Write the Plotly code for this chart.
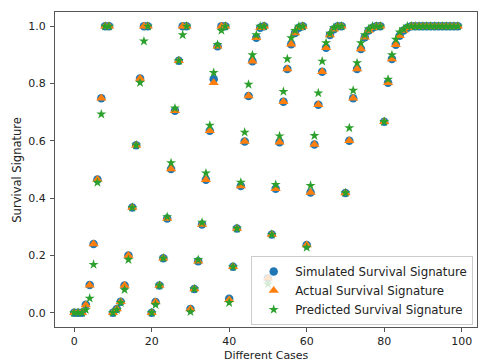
import plotly.graph_objects as go

cases = list(range(100))

simulated = [
    0, 0, 0, 0.028, 0.097, 0.24, 0.465, 0.749, 1, 1,
    0, 0.013, 0.038, 0.095, 0.2, 0.367, 0.585, 0.818, 1, 1,
    0, 0.037, 0.095, 0.19, 0.329, 0.502, 0.705, 0.88, 1, 1,
    0.013, 0.083, 0.18, 0.308, 0.464, 0.635, 0.815, 0.93, 1, 1,
    0.049, 0.16, 0.294, 0.442, 0.598, 0.757, 0.878, 0.96, 0.995, 1,
    0.12, 0.273, 0.433, 0.595, 0.737, 0.851, 0.937, 0.977, 0.995, 1,
    0.236, 0.42, 0.587, 0.726, 0.841, 0.925, 0.97, 0.99, 1, 1,
    0.418, 0.6, 0.749, 0.851, 0.921, 0.962, 0.985, 0.995, 1, 1,
    0.667, 0.803, 0.886, 0.936, 0.967, 0.985, 0.995, 1, 1, 1,
    1, 1, 1, 1, 1, 1, 1, 1, 1, 1,
]

actual = [
    0, 0, 0, 0.027, 0.096, 0.24, 0.465, 0.749, 1, 1,
    0, 0.013, 0.038, 0.095, 0.2, 0.367, 0.585, 0.818, 1, 1,
    0, 0.037, 0.095, 0.19, 0.329, 0.502, 0.705, 0.88, 1, 1,
    0.013, 0.083, 0.18, 0.308, 0.464, 0.635, 0.803, 0.93, 1, 1,
    0.045, 0.16, 0.294, 0.442, 0.598, 0.757, 0.878, 0.96, 0.995, 1,
    0.12, 0.273, 0.433, 0.595, 0.737, 0.851, 0.937, 0.977, 0.995, 1,
    0.236, 0.42, 0.587, 0.726, 0.841, 0.925, 0.97, 0.99, 1, 1,
    0.418, 0.6, 0.749, 0.851, 0.921, 0.962, 0.985, 0.995, 1, 1,
    0.667, 0.803, 0.886, 0.936, 0.967, 0.985, 0.995, 1, 1, 1,
    1, 1, 1, 1, 1, 1, 1, 1, 1, 1,
]

predicted = [
    0, 0, 0, 0.01, 0.05, 0.168, 0.455, 0.693, 1, 1,
    0, 0.01, 0.035, 0.08, 0.185, 0.367, 0.585, 0.803, 0.948, 1,
    0, 0.028, 0.095, 0.19, 0.335, 0.523, 0.714, 0.88, 0.97, 1,
    0.003, 0.083, 0.185, 0.315, 0.487, 0.654, 0.838, 0.936, 0.985, 1,
    0.035, 0.16, 0.294, 0.455, 0.63, 0.797, 0.9, 0.97, 1, 1,
    0.1, 0.273, 0.447, 0.617, 0.772, 0.886, 0.96, 0.985, 1, 1,
    0.228, 0.444, 0.618, 0.767, 0.878, 0.942, 0.975, 0.995, 1, 1,
    0.418, 0.645, 0.776, 0.872, 0.942, 0.97, 0.99, 1, 1, 1,
    0.667, 0.815, 0.9, 0.954, 0.98, 0.99, 1, 1, 1, 1,
    1, 1, 1, 1, 1, 1, 1, 1, 1, 1,
]

x_ticks = [0, 20, 40, 60, 80, 100]
y_ticks = [0.0, 0.2, 0.4, 0.6, 0.8, 1.0]

font = "DejaVu Sans, Arial, sans-serif"
text_color = "#222222"

fig = go.Figure()
fig.add_trace(go.Scatter(
    x=cases, y=simulated, mode="markers", name="Simulated Survival Signature",
    marker=dict(symbol="circle", size=8.5, color="#1f77b4"),
))
fig.add_trace(go.Scatter(
    x=cases, y=actual, mode="markers", name="Actual Survival Signature",
    marker=dict(symbol="triangle-up", size=9, color="#ff7f0e"),
))
fig.add_trace(go.Scatter(
    x=cases, y=predicted, mode="markers", name="Predicted Survival Signature",
    marker=dict(symbol="star", size=7.5, color="#2ca02c"),
))

axis_common = dict(
    showgrid=False, zeroline=False, showline=True, linecolor="#555555",
    linewidth=1, mirror=True, ticks="outside", ticklen=4, tickwidth=1,
    tickcolor="#555555", tickfont=dict(family=font, size=11, color=text_color),
    automargin=False,
)

fig.update_layout(
    width=478, height=362,
    margin=dict(l=55, r=1, t=12, b=35),
    paper_bgcolor="white", plot_bgcolor="white",
    font=dict(family=font, size=11, color=text_color),
    showlegend=True,
    legend=dict(
        x=0.991, y=0.006, xanchor="right", yanchor="bottom",
        bgcolor="rgba(255,255,255,0.8)", bordercolor="#cccccc", borderwidth=1,
        font=dict(family=font, size=11.8, color=text_color),
        itemsizing="trace", itemwidth=33, tracegroupgap=0,
    ),
    xaxis=dict(
        range=[-4.95, 103.95], tickvals=x_ticks, ticktext=[str(v) for v in x_ticks],
        ticklabelstandoff=0,
        **axis_common,
    ),
    yaxis=dict(
        range=[-0.05, 1.05], tickvals=y_ticks, ticktext=[f"{v:.1f}" for v in y_ticks],
        ticklabelstandoff=2,
        **axis_common,
    ),
    annotations=[
        dict(text="Different Cases", xref="paper", yref="paper", x=0.5, y=-0.09,
             xanchor="center", yanchor="middle", showarrow=False,
             font=dict(family=font, size=11, color=text_color)),
        dict(text="Survival Signature", xref="paper", yref="paper", x=-0.092, y=0.5,
             xanchor="center", yanchor="middle", textangle=-90, showarrow=False,
             font=dict(family=font, size=11.5, color=text_color)),
    ],
)

fig.write_html("out.html")
